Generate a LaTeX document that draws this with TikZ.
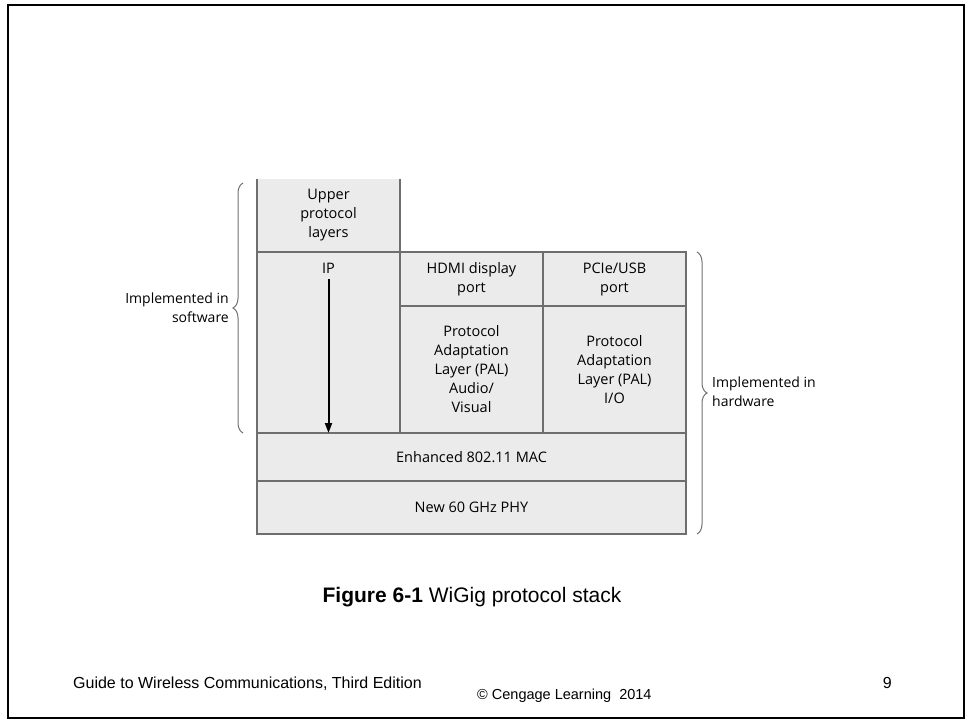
\documentclass[tikz,border=0pt]{standalone}
\usepackage{fontspec}
\setmainfont{Liberation Sans}
\newfontfamily\stackfont{Open Sans}
\usetikzlibrary{decorations.pathreplacing,arrows.meta}

\definecolor{layergray}{HTML}{EBEBEB}
\definecolor{edgegray}{HTML}{6E6E6E}
\definecolor{bracegray}{HTML}{707070}

\begin{document}
\begin{tikzpicture}[
        x=1pt, y=-1pt,
        layer/.style={
            rectangle,
            draw=edgegray,
            fill=layergray,
            line width=1.3pt,
            inner sep=0pt,
            outer sep=0pt,
            align=center,
            font=\stackfont\fontsize{14.5}{19}\selectfont
        },
        note/.style={
            inner sep=0pt,
            font=\stackfont\fontsize{14}{19}\selectfont
        },
        side/.style={draw=edgegray, line width=1.3pt},
        brace/.style={
            draw=bracegray,
            line width=1pt,
            decorate,
            decoration={brace, amplitude=10pt}
        },
        flow/.style={line width=2pt, -{Triangle[length=10pt,width=7pt]}},
        slide/.style={inner sep=0pt}
    ]

    \useasboundingbox (0,0) rectangle (967,721);
    \draw[line width=2.2pt] (8,5) rectangle (964,718);

    % Software column
    \node[layer, draw=none, minimum width=143pt, minimum height=73pt]  (upper) at (328.5,215.5) {Upper\\protocol\\layers};
    \draw[side] (upper.north west) -- (upper.south west);
    \draw[side] (upper.north east) -- (upper.south east);
    \node[layer, minimum width=143pt, minimum height=181pt]            (ip)    at (328.5,342.5) {};
    \node[layer, draw=none, fill=none, inner ysep=6pt]                 (iplabel) at (328.5,268) {IP};

    % PAL columns
    \node[layer, minimum width=143pt, minimum height=54pt]             (hdmi)  at (471.5,279)   {HDMI display\\port};
    \node[layer, minimum width=143pt, minimum height=54pt]             (pcie)  at (614.5,279)   {PCIe/USB\\port};
    \node[layer, minimum width=143pt, minimum height=127pt]            (palav) at (471.5,369.5) {Protocol\\Adaptation\\Layer (PAL)\\Audio/\\Visual};
    \node[layer, minimum width=143pt, minimum height=127pt]            (palio) at (614.5,369.5) {Protocol\\Adaptation\\Layer (PAL)\\I/O};

    % MAC and PHY
    \node[layer, minimum width=429pt, minimum height=48pt]             (mac)   at (471.5,457)   {Enhanced 802.11 MAC};
    \node[layer, minimum width=429pt, minimum height=53pt]             (phy)   at (471.5,507.5) {New 60 GHz PHY};

    \draw[flow] (iplabel) -- (iplabel |- mac.north);

    % Braces
    \draw[brace] ([xshift=-14pt]ip.south west) -- ([xshift=-14pt,yshift=-4pt]upper.north west);
    \draw[brace] ([xshift=11pt]pcie.north east) -- ([xshift=11pt]phy.south east);
    \node[note, anchor=east, align=right] (software) at (229,308) {Implemented in\\software};
    \node[note, anchor=west, align=left]  (hardware) at (712,392) {Implemented in\\hardware};

    % Caption and footer
    \node[slide, anchor=base, font=\fontsize{21}{25}\selectfont]            (caption)   at (472,602) {\textbf{Figure 6-1} WiGig protocol stack};
    \node[slide, anchor=base west, font=\fontsize{16}{19}\selectfont]       (book)      at (73,688)  {Guide to Wireless Communications, Third Edition};
    \node[slide, anchor=base west, font=\fontsize{14.5}{17}\selectfont]     (copyright) at (477,699) {© Cengage Learning\ \ 2014};
    \node[slide, anchor=base east, font=\fontsize{16}{19}\selectfont]       (page)      at (892,688) {9};

\end{tikzpicture}
\end{document}
